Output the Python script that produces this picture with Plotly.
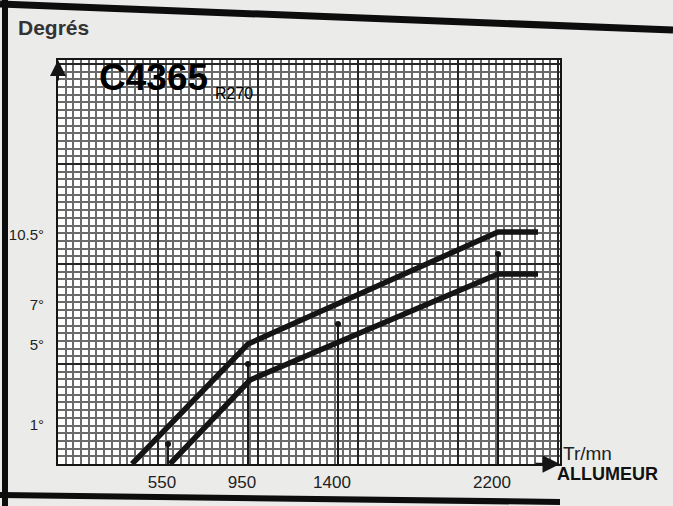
import plotly.graph_objects as go

# ---- data ----
upper_rpm = [370, 950, 2200, 2400]
upper_deg = [0, 6.0, 11.6, 11.6]

lower_rpm = [560, 960, 2200, 2400]
lower_deg = [0, 4.2, 9.5, 9.5]

nominal_rpm = [550, 950, 1400, 2200]
nominal_deg = [1, 5, 7, 10.5]

x_tick_vals = [550, 950, 1400, 2200]
x_tick_text = ["550", "950", "1400", "2200"]
y_tick_vals = [1, 5, 7, 10.5]
y_tick_text = ["1°", "5°", "7°", "10.5°"]

X_RANGE = [0, 2510]
Y_RANGE = [0, 20.2]

# ---- layout geometry ----
W, H = 673, 506
ML, MR, MT, MB = 58, 113, 60, 42
PW, PH = W - ML - MR, H - MT - MB


def px(xp):
    return (xp - ML) / PW


def py(yp):
    return (H - MB - yp) / PH


FONT = "Liberation Sans, Arial, sans-serif"
INK = "#151515"

fig = go.Figure()

# drop lines from nominal points to the rpm axis (primary axes)
dx, dy = [], []
for r, d in zip(nominal_rpm, nominal_deg):
    dx += [r, r, None]
    dy += [0, d, None]
fig.add_trace(go.Scatter(x=dx, y=dy, mode="lines",
                         line=dict(color="#1a1a1a", width=2),
                         hoverinfo="skip", showlegend=False))

# curves on the overlay axes (which carry the heavy graph-paper lines)
fig.add_trace(go.Scatter(x=upper_rpm, y=upper_deg, mode="lines",
                         line=dict(color=INK, width=5.5),
                         xaxis="x2", yaxis="y2", showlegend=False))
fig.add_trace(go.Scatter(x=lower_rpm, y=lower_deg, mode="lines",
                         line=dict(color=INK, width=5.5),
                         xaxis="x2", yaxis="y2", showlegend=False))
fig.add_trace(go.Scatter(x=nominal_rpm, y=nominal_deg, mode="markers",
                         marker=dict(color=INK, size=6),
                         xaxis="x2", yaxis="y2", showlegend=False))

grid_minor = dict(showgrid=True, gridcolor="#6a6a6a", gridwidth=1.8,
                  ticks="")

fig.update_layout(
    width=W, height=H,
    margin=dict(l=ML, r=MR, t=MT, b=MB, autoexpand=False),
    paper_bgcolor="#ebebea",
    plot_bgcolor="#ffffff",
    font=dict(family=FONT, color="#222"),
    xaxis=dict(range=X_RANGE, tickvals=x_tick_vals, ticktext=x_tick_text,
               showgrid=False, ticks="", zeroline=False, showline=True,
               linecolor=INK, linewidth=2, mirror=True, automargin=False,
               ticklabelstandoff=2, ticklabelshift=-6,
               tickfont=dict(size=17, color="#222", family=FONT),
               minor=dict(tickmode="linear", tick0=0, dtick=500 / 13,
                          **grid_minor)),
    yaxis=dict(range=Y_RANGE, tickvals=y_tick_vals, ticktext=y_tick_text,
               showgrid=False, ticks="", zeroline=False, showline=True,
               linecolor=INK, linewidth=2, mirror=True, automargin=False,
               ticklabelshift=-19, ticklabelstandoff=9,
               tickfont=dict(size=15, color="#222", family=FONT),
               minor=dict(tickmode="linear", tick0=0, dtick=5 / 13,
                          **grid_minor)),
    xaxis2=dict(range=X_RANGE, overlaying="x", anchor="y2", side="bottom",
                tick0=0, dtick=500, showgrid=True, gridcolor="#262626",
                gridwidth=2, showticklabels=False, ticks="", zeroline=False,
                showline=False, automargin=False),
    yaxis2=dict(range=Y_RANGE, overlaying="y", anchor="x2", side="left",
                tick0=0, dtick=5, showgrid=True, gridcolor="#262626",
                gridwidth=2, showticklabels=False, ticks="", zeroline=False,
                showline=False, automargin=False),
)

ann = [
    dict(text="Degrés", x=px(16), y=py(28), xanchor="left", yanchor="middle",
         font=dict(size=21, color="#333", family=FONT, weight="bold")),
    dict(text="C4365", x=px(97), y=py(77), xanchor="left", yanchor="middle",
         font=dict(size=37, color="#000", family=FONT, weight="bold")),
    dict(text="R270", x=px(213), y=py(94), xanchor="left", yanchor="middle",
         font=dict(size=16, color="#000", family=FONT)),
    dict(text="Tr/mn", x=px(561), y=py(453), xanchor="left", yanchor="middle",
         font=dict(size=19, color="#222", family=FONT)),
    dict(text="ALLUMEUR", x=px(555), y=py(474), xanchor="left", yanchor="middle",
         font=dict(size=18, color="#111", family=FONT, weight="bold")),
]
for a in ann:
    a.update(xref="paper", yref="paper", showarrow=False)
# axis arrows
ann.append(dict(x=0, y=1, xref="paper", yref="paper", ax=0, ay=22,
                showarrow=True, arrowhead=2, arrowsize=1.6, arrowwidth=2,
                arrowcolor=INK, text=""))
ann.append(dict(x=1, y=0, xref="paper", yref="paper", ax=-26, ay=0,
                showarrow=True, arrowhead=2, arrowsize=1.4, arrowwidth=2.5,
                arrowcolor=INK, text=""))
fig.update_layout(annotations=ann)

# scanned page frame edges
frame = [
    ((0, 4), (673, 30), 7),
    ((5, 0), (5, 506), 6),
    ((0, 495), (560, 502), 6),
]
for (x0, y0), (x1, y1), w in frame:
    fig.add_shape(type="line", xref="paper", yref="paper",
                  x0=px(x0), y0=py(y0), x1=px(x1), y1=py(y1),
                  line=dict(color="#0d0d0d", width=w), layer="above")

fig.write_html("out.html",
               config={"displayModeBar": False},
               post_script="document.body.style.margin='0px';")
